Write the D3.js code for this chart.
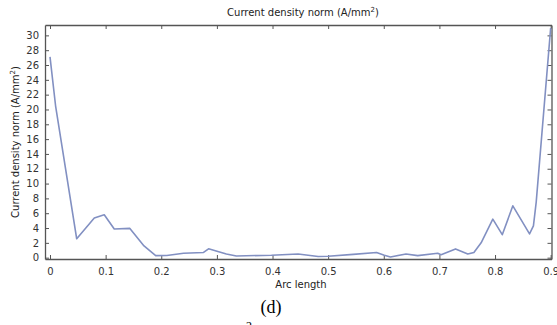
<!DOCTYPE html>
<html lang="en">
    <head>
        <meta charset="utf-8">
        <title>Current density norm</title>
        <script type="text/javascript" src="https://cdn.jsdelivr.net/npm/d3@7"></script>
        <style>
            body { margin: 0; background: #fff; }
            svg text { font-family: "DejaVu Sans", sans-serif; }
            svg text.serif { font-family: "Liberation Serif", "Times New Roman", serif; }
        </style>
    </head>
    <body>
        <script type="text/javascript">
            // arc length (x) and current density norm (y)
            var arcLength = [0, 0.01, 0.048, 0.0796, 0.0975, 0.1155, 0.1436, 0.169, 0.19, 0.21,
                             0.24, 0.276, 0.285, 0.317, 0.335, 0.398, 0.446, 0.482, 0.5, 0.545,
                             0.587, 0.601, 0.612, 0.64, 0.661, 0.697, 0.703, 0.729, 0.751, 0.762,
                             0.775, 0.796, 0.813, 0.832, 0.862, 0.869, 0.874, 0.9];
            var currentDensity = [27.1, 20.5, 2.55, 5.35, 5.8, 3.86, 3.95, 1.59, 0.27, 0.3,
                                  0.6, 0.7, 1.2, 0.5, 0.23, 0.33, 0.5, 0.15, 0.2, 0.45,
                                  0.7, 0.33, 0.1, 0.5, 0.27, 0.6, 0.4, 1.18, 0.5, 0.7,
                                  2.0, 5.2, 3.1, 7.0, 3.2, 4.3, 7.5, 31.0];
            var xTicks = [0, 0.1, 0.2, 0.3, 0.4, 0.5, 0.6, 0.7, 0.8, 0.9];
            var yTicks = d3.range(0, 31, 2);

            var w = 557, h = 325;
            // plot frame (note: "top" is reserved on window, so prefix these)
            var pLeft = 45, pRight = 551.5, pTop = 25, pBottom = 259;

            var xScale = d3.scaleLinear().domain([-0.009, 0.9015]).range([pLeft, pRight]);
            var yScale = d3.scaleLinear().domain([-0.18, 31.4]).range([pBottom, pTop]);

            var svg = d3.select("body").append("svg")
                        .attr("width", w)
                        .attr("height", h);

            var axisColor = "#555";

            // bottom axis: ticks pointing up into the plot
            var gx = svg.append("g")
                .attr("transform", "translate(0," + pBottom + ")")
                .call(d3.axisBottom(xScale).tickValues(xTicks).tickSizeInner(-4).tickSizeOuter(0).tickPadding(9)
                        .tickFormat(d3.format("")));
            // left axis: ticks pointing right
            var gy = svg.append("g")
                .attr("transform", "translate(" + pLeft + ",0)")
                .call(d3.axisLeft(yScale).tickValues(yTicks).tickSizeInner(-4).tickSizeOuter(0).tickPadding(6));
            // top and right axes, ticks only
            var gt = svg.append("g")
                .attr("transform", "translate(0," + pTop + ")")
                .call(d3.axisTop(xScale).tickValues(xTicks).tickSizeInner(-4).tickSizeOuter(0).tickFormat(""));
            var gr = svg.append("g")
                .attr("transform", "translate(" + pRight + ",0)")
                .call(d3.axisRight(yScale).tickValues(yTicks).tickSizeInner(-4).tickSizeOuter(0).tickFormat(""));

            [gx, gy, gt, gr].forEach(function(g){
                g.selectAll("path.domain").attr("stroke", axisColor).attr("stroke-width", 1.3);
                g.selectAll(".tick line").attr("stroke", axisColor);
                g.selectAll(".tick text")
                    .attr("fill", "#333")
                    .attr("font-size", "10px");
            });

            // the data line
            var pts = arcLength.map(function(d, i){ return [d, currentDensity[i]]; });
            var line = d3.line()
                .x(function(d){ return xScale(d[0]); })
                .y(function(d){ return yScale(d[1]); });

            svg.append("path")
                .datum(pts)
                .attr("d", line)
                .attr("fill", "none")
                .attr("stroke", "#8290c2")
                .attr("stroke-width", 1.6)
                .attr("stroke-linejoin", "round");

            // title
            var title = svg.append("text")
                .attr("x", 303)
                .attr("y", 16)
                .attr("text-anchor", "middle")
                .attr("font-size", "10px")
                .attr("fill", "#222")
                .text("Current density norm (A/mm");
            title.append("tspan").attr("dy", -4).attr("font-size", "7px").text("2");
            title.append("tspan").attr("dy", 4).text(")");

            // y label
            var yl = svg.append("text")
                .attr("transform", "translate(19," + 142 + ") rotate(-90)")
                .attr("text-anchor", "middle")
                .attr("font-size", "10px")
                .attr("fill", "#222")
                .text("Current density norm (A/mm");
            yl.append("tspan").attr("dy", -4).attr("font-size", "7px").text("2");
            yl.append("tspan").attr("dy", 4).text(")");

            // x label
            svg.append("text")
                .attr("x", 301)
                .attr("y", 288)
                .attr("text-anchor", "middle")
                .attr("font-size", "10px")
                .attr("fill", "#222")
                .text("Arc length");

            // caption
            svg.append("text")
                .attr("class", "serif")
                .attr("x", 271)
                .attr("y", 313)
                .attr("text-anchor", "middle")
                .attr("font-size", "18px")
                .attr("fill", "#000")
                .text("(d)");

            // top of the next caption, cut by the edge
            svg.append("text")
                .attr("class", "serif")
                .attr("x", 249)
                .attr("y", 330)
                .attr("text-anchor", "middle")
                .attr("font-size", "12px")
                .attr("fill", "#000")
                .text("2");
        </script>
    </body>
</html>
